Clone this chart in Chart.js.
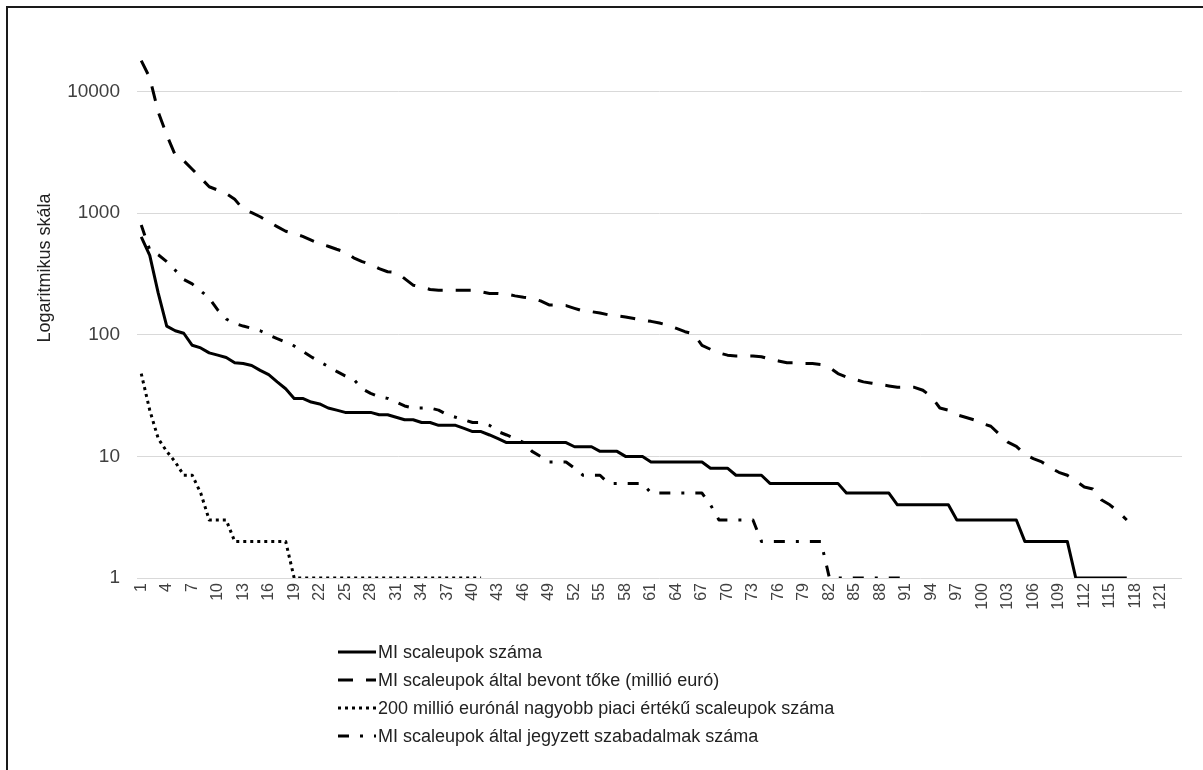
<!DOCTYPE html>
<html>
<head>
<meta charset="utf-8">
<script src="https://cdn.jsdelivr.net/npm/chart.js@4.4.1/dist/chart.umd.min.js"></script>
<style>
  body { margin: 0; background: #fff; }
  #wrap { position: relative; width: 1203px; height: 770px; overflow: hidden; }
  #chart { position: absolute; left: 0; top: 0; }
  #frame { position: absolute; left: 6px; top: 6px; right: -2px; bottom: -2px;
           border-top: 2px solid #1a1a1a; border-left: 2px solid #1a1a1a; pointer-events: none; }
</style>
</head>
<body>
<div id="wrap">
  <canvas id="chart" width="1203" height="770"></canvas>
  <div id="frame"></div>
</div>
<script>
// kategóriák (rangsor)
const categories = [
  1, 2, 3, 4, 5, 6, 7, 8, 9, 10, 11, 12, 13, 14, 15, 16, 17, 18, 19, 20,
  21, 22, 23, 24, 25, 26, 27, 28, 29, 30, 31, 32, 33, 34, 35, 36, 37, 38, 39, 40,
  41, 42, 43, 44, 45, 46, 47, 48, 49, 50, 51, 52, 53, 54, 55, 56, 57, 58, 59, 60,
  61, 62, 63, 64, 65, 66, 67, 68, 69, 70, 71, 72, 73, 74, 75, 76, 77, 78, 79, 80,
  81, 82, 83, 84, 85, 86, 87, 88, 89, 90, 91, 92, 93, 94, 95, 96, 97, 98, 99, 100,
  101, 102, 103, 104, 105, 106, 107, 108, 109, 110, 111, 112, 113, 114, 115, 116, 117, 118, 119, 120,
  121, 122, 123
];

// MI scaleupok száma (folytonos)
const scaleupCount = [
  640, 450, 220, 118, 108, 103, 82, 78, 71, 68,
  65, 59, 58, 56, 51, 47, 41, 36, 30, 30,
  28, 27, 25, 24, 23, 23, 23, 23, 22, 22,
  21, 20, 20, 19, 19, 18, 18, 18, 17, 16,
  16, 15, 14, 13, 13, 13, 13, 13, 13, 13,
  13, 12, 12, 12, 11, 11, 11, 10, 10, 10,
  9, 9, 9, 9, 9, 9, 9, 8, 8, 8,
  7, 7, 7, 7, 6, 6, 6, 6, 6, 6,
  6, 6, 6, 5, 5, 5, 5, 5, 5, 4,
  4, 4, 4, 4, 4, 4, 3, 3, 3, 3,
  3, 3, 3, 3, 2, 2, 2, 2, 2, 2,
  1, 1, 1, 1, 1, 1, 1
];

// bevont tőke, millió euró (szaggatott)
const capitalRaised = [
  18000, 13000, 6800, 4400, 3000, 2700, 2300, 1950, 1650, 1550,
  1450, 1300, 1080, 1010, 935, 850, 775, 710, 680, 645,
  600, 560, 535, 505, 480, 430, 400, 380, 350, 330,
  325, 290, 256, 248, 236, 233, 233, 233, 233, 233,
  226, 219, 219, 216, 209, 204, 200, 190, 176, 176,
  174, 165, 157, 155, 151, 146, 143, 140, 136, 132,
  129, 125, 120, 113, 106, 102, 82, 76, 71, 68,
  67, 67, 67, 66, 63, 61, 59, 59, 58, 58,
  57, 54, 48, 45, 43, 41, 40, 39, 38, 37,
  37, 37, 35, 31, 25, 24, 22, 21, 20, 18.6,
  17.7, 15.2, 13.1, 12.1, 10.4, 9.6, 9, 8.1, 7.4, 7,
  6.3, 5.6, 5.4, 4.4, 4, 3.5, 3
];

// 200 millió euró feletti scaleupok (pontozott)
const bigScaleups = [
  48, 24, 14, 11, 9, 7, 7, 5, 3, 3,
  3, 2, 2, 2, 2, 2, 2, 2, 1, 1,
  1, 1, 1, 1, 1, 1, 1, 1, 1, 1,
  1, 1, 1, 1, 1, 1, 1, 1, 1, 1,
  1
];

// szabadalmak száma (pont-vonal)
const patents = [
  800, 500, 455, 400, 340, 285, 262, 230, 200, 160,
  135, 124, 118, 113, 108, 100, 93, 87, 81, 73,
  66, 60, 55, 50, 46, 43, 36, 33, 31, 30,
  28, 26, 25, 25, 25, 24, 22, 21, 20, 19,
  19, 18, 16, 15, 14, 13, 11, 10, 9, 9,
  9, 8, 7, 7, 7, 6, 6, 6, 6, 6,
  5, 5, 5, 5, 5, 5, 5, 4, 3, 3,
  3, 3, 3, 2, 2, 2, 2, 2, 2, 2,
  2, 1, 1, 1, 1, 1, 1, 1, 1, 1,
  1
];

const yTicks = [1, 10, 100, 1000, 10000];
const yTitle = 'Logaritmikus skála';
const seriesNames = [
  'MI scaleupok száma',
  'MI scaleupok által bevont tőke (millió euró)',
  '200 millió eurónál nagyobb piaci értékű scaleupok száma',
  'MI scaleupok által jegyzett szabadalmak száma'
];

const FONT = '"Liberation Sans", Arial, sans-serif';
Chart.defaults.font.family = FONT;

// saját jelmagyarázat + tengelycím
const legendAndTitle = {
  id: 'legendAndTitle',
  afterDraw(chart) {
    const c = chart.ctx;
    c.save();
    c.fillStyle = '#222';
    c.font = '18px ' + FONT;
    c.translate(45, 268);
    c.rotate(-Math.PI / 2);
    c.textAlign = 'center';
    c.textBaseline = 'middle';
    c.fillText(yTitle, 0, 0);
    c.restore();

    chart.data.datasets.forEach((ds, i) => {
      const y = 652 + i * 28;
      c.save();
      c.strokeStyle = ds.borderColor;
      c.lineWidth = 3;
      c.setLineDash(ds.borderDash || []);
      c.beginPath();
      c.moveTo(338, y);
      c.lineTo(376, y);
      c.stroke();
      c.setLineDash([]);
      c.fillStyle = '#222';
      c.font = '18px ' + FONT;
      c.textAlign = 'left';
      c.textBaseline = 'middle';
      c.fillText(ds.label, 378, y + 1);
      c.restore();
    });
  }
};

const mkLine = (label, data, dash) => ({
  label: label,
  data: data,
  borderColor: '#000',
  borderWidth: 3,
  borderDash: dash,
  borderCapStyle: 'butt',
  borderJoinStyle: 'round',
  pointRadius: 0,
  fill: false,
  tension: 0
});

new Chart(document.getElementById('chart').getContext('2d'), {
  type: 'line',
  data: {
    labels: categories,
    datasets: [
      mkLine(seriesNames[0], scaleupCount, []),
      mkLine(seriesNames[1], capitalRaised, [15, 13]),
      mkLine(seriesNames[2], bigScaleups, [3, 4]),
      mkLine(seriesNames[3], patents, [11, 11, 3, 11])
    ]
  },
  options: {
    responsive: false,
    devicePixelRatio: 1,
    animation: false,
    layout: { padding: { top: 55, right: 21, bottom: 150, left: 0 } },
    plugins: {
      legend: { display: false },
      tooltip: { enabled: false }
    },
    scales: {
      x: {
        type: 'category',
        offset: true,
        grid: { display: false, drawTicks: false },
        border: { display: false },
        ticks: {
          autoSkip: false,
          minRotation: 90,
          maxRotation: 90,
          padding: 5,
          color: '#404040',
          font: { size: 16 },
          callback: function (v, i) {
            return i % 3 === 0 ? String(this.getLabelForValue(v)) : null;
          }
        },
        afterFit: s => { s.height = 42; s.paddingLeft = 0; s.paddingRight = 0; }
      },
      y: {
        type: 'logarithmic',
        min: 1,
        max: 20000,
        grid: { color: '#d9d9d9', lineWidth: 1, drawTicks: false },
        border: { display: false },
        ticks: {
          padding: 17,
          color: '#404040',
          font: { size: 19 },
          callback: v => String(v)
        },
        afterBuildTicks: s => { s.ticks = yTicks.map(v => ({ value: v })); },
        afterFit: s => { s.width = 137; s.paddingTop = 0; s.paddingBottom = 0; }
      }
    }
  },
  plugins: [legendAndTitle]
});
</script>
</body>
</html>
